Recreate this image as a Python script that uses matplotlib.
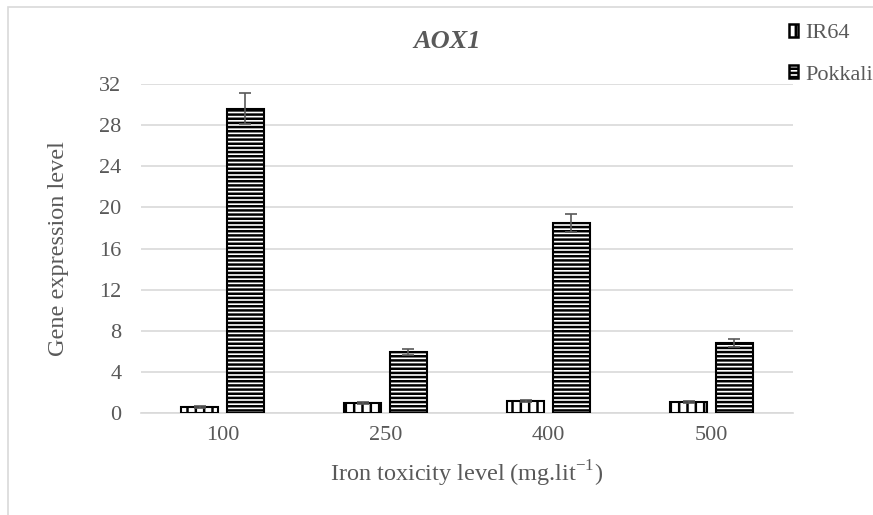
import numpy as np
import matplotlib
matplotlib.use("Agg")
from matplotlib import pyplot as plt
from matplotlib.patches import Patch, Rectangle

categories = ["100", "250", "400", "500"]
ir64 = [0.6, 1.0, 1.2, 1.1]
ir64_err = [0.1, 0.1, 0.1, 0.1]
pokkali = [29.6, 5.9, 18.5, 6.8]
pokkali_err = [1.5, 0.3, 0.9, 0.35]
yticks = [0, 4, 8, 12, 16, 20, 24, 28, 32]

plt.rcParams['font.family'] = ['Liberation Serif', 'DejaVu Serif']
plt.rcParams['mathtext.fontset'] = 'custom'
plt.rcParams['mathtext.rm'] = 'Liberation Serif'
plt.rcParams['hatch.linewidth'] = 1.8
plt.rcParams['hatch.color'] = 'black'
grey = '#595959'

fig = plt.figure(figsize=(8.73, 5.15), dpi=100)
# chart border
fig.patches.append(Rectangle((8/873, -0.05), 1.0, 1 - 7/515 + 0.05, transform=fig.transFigure,
                             fill=False, edgecolor='#d9d9d9', linewidth=1.2))

ax = fig.add_axes([141/873, 1 - 413/515, (793 - 141)/873, (413 - 84)/515])

x = np.arange(len(categories))
w = 0.227
gap = 0.055
ax.bar(x - (w + gap)/2, ir64, w, color='white', edgecolor='black', linewidth=1.5,
       hatch='||', label='IR64', zorder=3)
ax.bar(x + (w + gap)/2, pokkali, w, color='white', edgecolor='black', linewidth=1.5,
       hatch='----', label='Pokkali', zorder=3)
ax.errorbar(x - (w + gap)/2, ir64, yerr=ir64_err, fmt='none', ecolor=grey, elinewidth=1.2,
            capsize=4.5, capthick=1.2, zorder=4)
ax.errorbar(x + (w + gap)/2, pokkali, yerr=pokkali_err, fmt='none', ecolor=grey, elinewidth=1.2,
            capsize=4.5, capthick=1.2, zorder=4)

ax.set_xlim(-0.5, len(categories) - 0.5)
ax.set_ylim(0, 32)
ax.set_yticks(yticks)
ax.set_xticks(x)
ax.set_xticklabels(categories)
ax.yaxis.grid(True, color='#d9d9d9', linewidth=1.2, zorder=0)
ax.set_axisbelow(True)
for s in ['top', 'right', 'left']:
    ax.spines[s].set_visible(False)
ax.spines['bottom'].set_color('#d9d9d9')
ax.spines['bottom'].set_linewidth(1.2)
ax.tick_params(length=0, labelsize=16, labelcolor=grey)
ax.tick_params(axis='x', pad=9)
ax.tick_params(axis='y', pad=14)

ax.set_ylabel('Gene expression level', fontsize=17.5, color=grey, labelpad=22)
ax.set_xlabel('Iron toxicity level (mg.lit$^{\\mathrm{-1}}$)', fontsize=17.5, color=grey, labelpad=10)
fig.text(447/873, 1 - 42/515, 'AOX1', fontsize=19, fontweight='bold', fontstyle='italic',
         color=grey, ha='center', va='center')

handles = [Patch(facecolor='white', edgecolor='black', hatch='||', linewidth=1.8),
           Patch(facecolor='white', edgecolor='black', hatch='----', linewidth=1.8)]
fig.legend(handles, ['IR64', 'Pokkali'], loc='upper left', bbox_to_anchor=(789/873, 1 - 24/515),
           frameon=False, fontsize=16, labelcolor=grey, handlelength=0.42, handleheight=0.5,
           handletextpad=0.3, labelspacing=1.0, borderaxespad=0, borderpad=0)

fig.savefig('out.png', dpi=100)
